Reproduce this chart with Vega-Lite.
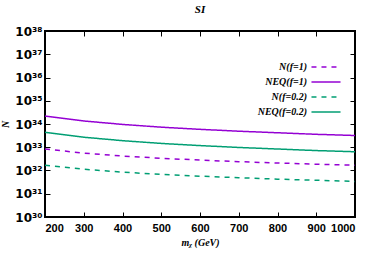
{
  "$schema": "https://vega.github.io/schema/vega-lite/v6.json",
  "autosize": "none",
  "width": 310,
  "height": 186,
  "padding": {"left": 45, "top": 31, "right": 19, "bottom": 45},
  "background": "white",
  "title": {"text": "SI", "font": "Liberation Serif", "fontStyle": "italic", "fontWeight": "bold", "fontSize": 11, "color": "black", "offset": 10, "anchor": "middle"},
  "config": {
    "view": {"stroke": "black", "strokeWidth": 2},
    "axis": {"grid": false, "domain": false, "tickColor": "black", "tickSize": -5, "tickWidth": 1, "labelColor": "black", "titleColor": "black"}
  },
  "data": {"values": [
    {"m": 200, "N": 8.4e32, "s": "N(f=1)"},
    {"m": 300, "N": 5.6e32, "s": "N(f=1)"},
    {"m": 400, "N": 4.2e32, "s": "N(f=1)"},
    {"m": 500, "N": 3.36e32, "s": "N(f=1)"},
    {"m": 600, "N": 2.8e32, "s": "N(f=1)"},
    {"m": 700, "N": 2.4e32, "s": "N(f=1)"},
    {"m": 800, "N": 2.1e32, "s": "N(f=1)"},
    {"m": 900, "N": 1.87e32, "s": "N(f=1)"},
    {"m": 1000, "N": 1.68e32, "s": "N(f=1)"},
    {"m": 200, "N": 2.2e34, "s": "NEQ(f=1)"},
    {"m": 300, "N": 1.35e34, "s": "NEQ(f=1)"},
    {"m": 400, "N": 9.6e33, "s": "NEQ(f=1)"},
    {"m": 500, "N": 7.3e33, "s": "NEQ(f=1)"},
    {"m": 600, "N": 5.9e33, "s": "NEQ(f=1)"},
    {"m": 700, "N": 4.9e33, "s": "NEQ(f=1)"},
    {"m": 800, "N": 4.2e33, "s": "NEQ(f=1)"},
    {"m": 900, "N": 3.6e33, "s": "NEQ(f=1)"},
    {"m": 1000, "N": 3.2e33, "s": "NEQ(f=1)"},
    {"m": 200, "N": 1.7e32, "s": "N(f=0.2)"},
    {"m": 300, "N": 1.13e32, "s": "N(f=0.2)"},
    {"m": 400, "N": 8.5e31, "s": "N(f=0.2)"},
    {"m": 500, "N": 6.8e31, "s": "N(f=0.2)"},
    {"m": 600, "N": 5.7e31, "s": "N(f=0.2)"},
    {"m": 700, "N": 4.9e31, "s": "N(f=0.2)"},
    {"m": 800, "N": 4.25e31, "s": "N(f=0.2)"},
    {"m": 900, "N": 3.8e31, "s": "N(f=0.2)"},
    {"m": 1000, "N": 3.4e31, "s": "N(f=0.2)"},
    {"m": 200, "N": 4.4e33, "s": "NEQ(f=0.2)"},
    {"m": 300, "N": 2.7e33, "s": "NEQ(f=0.2)"},
    {"m": 400, "N": 1.92e33, "s": "NEQ(f=0.2)"},
    {"m": 500, "N": 1.46e33, "s": "NEQ(f=0.2)"},
    {"m": 600, "N": 1.18e33, "s": "NEQ(f=0.2)"},
    {"m": 700, "N": 9.8e32, "s": "NEQ(f=0.2)"},
    {"m": 800, "N": 8.4e32, "s": "NEQ(f=0.2)"},
    {"m": 900, "N": 7.2e32, "s": "NEQ(f=0.2)"},
    {"m": 1000, "N": 6.4e32, "s": "NEQ(f=0.2)"}
  ]},
  "resolve": {"axis": {"x": "independent", "y": "independent"}},
  "layer": [
    {
      "mark": {"type": "line", "strokeWidth": 1.5, "clip": true},
      "encoding": {
        "x": {"field": "m", "type": "quantitative", "scale": {"domain": [200, 1000], "nice": false},
          "axis": {"values": [200, 300, 400, 500, 600, 700, 800, 900, 1000], "format": "d", "labelFont": "Liberation Sans", "labelFontWeight": "bold", "labelFontSize": 11, "labelPadding": 10, "title": "mᵪ (GeV)", "titleFont": "Liberation Serif", "titleFontStyle": "italic", "titleFontWeight": "bold", "titleFontSize": 10, "titlePadding": 4}},
        "y": {"field": "N", "type": "quantitative", "scale": {"type": "log", "domain": [1e30, 1e38], "nice": false},
          "axis": {"values": [1e30, 1e31, 1e32, 1e33, 1e34, 1e35, 1e36, 1e37, 1e38], "labelExpr": "'10' + ['³⁰','³¹','³²','³³','³⁴','³⁵','³⁶','³⁷','³⁸'][round(log(datum.value)/LN10)-30]", "labelFont": "DejaVu Sans", "labelFontWeight": "bold", "labelFontSize": 12, "labelPadding": 8, "title": "N", "titleFont": "Liberation Serif", "titleFontStyle": "italic", "titleFontWeight": "bold", "titleFontSize": 10, "titlePadding": 4}},
        "color": {"field": "s", "type": "nominal",
          "scale": {"domain": ["N(f=1)", "NEQ(f=1)", "N(f=0.2)", "NEQ(f=0.2)"], "range": ["#9400d3", "#9400d3", "#009e73", "#009e73"]},
          "legend": {"orient": "none", "legendX": 274, "legendY": 29, "title": null, "padding": 0, "symbolType": "M-2.5,0H2.5", "symbolSize": 135, "symbolStrokeWidth": 1.5, "symbolFillColor": "transparent", "labelAlign": "right", "labelOffset": -26, "labelFont": "Liberation Serif", "labelFontStyle": "italic", "labelFontWeight": "bold", "labelFontSize": 10, "labelColor": "black", "rowPadding": 3}},
        "strokeDash": {"field": "s", "type": "nominal",
          "scale": {"domain": ["N(f=1)", "NEQ(f=1)", "N(f=0.2)", "NEQ(f=0.2)"], "range": [[5, 5], [1, 0], [5, 5], [1, 0]]},
          "legend": null}
      }
    },
    {
      "mark": {"type": "line", "opacity": 0},
      "encoding": {
        "x": {"field": "m", "type": "quantitative", "axis": {"orient": "top", "values": [200, 300, 400, 500, 600, 700, 800, 900, 1000], "labels": false, "title": null}},
        "y": {"field": "N", "type": "quantitative", "axis": {"orient": "right", "values": [1e30, 1e31, 1e32, 1e33, 1e34, 1e35, 1e36, 1e37, 1e38], "labels": false, "title": null}}
      }
    }
  ]
}
